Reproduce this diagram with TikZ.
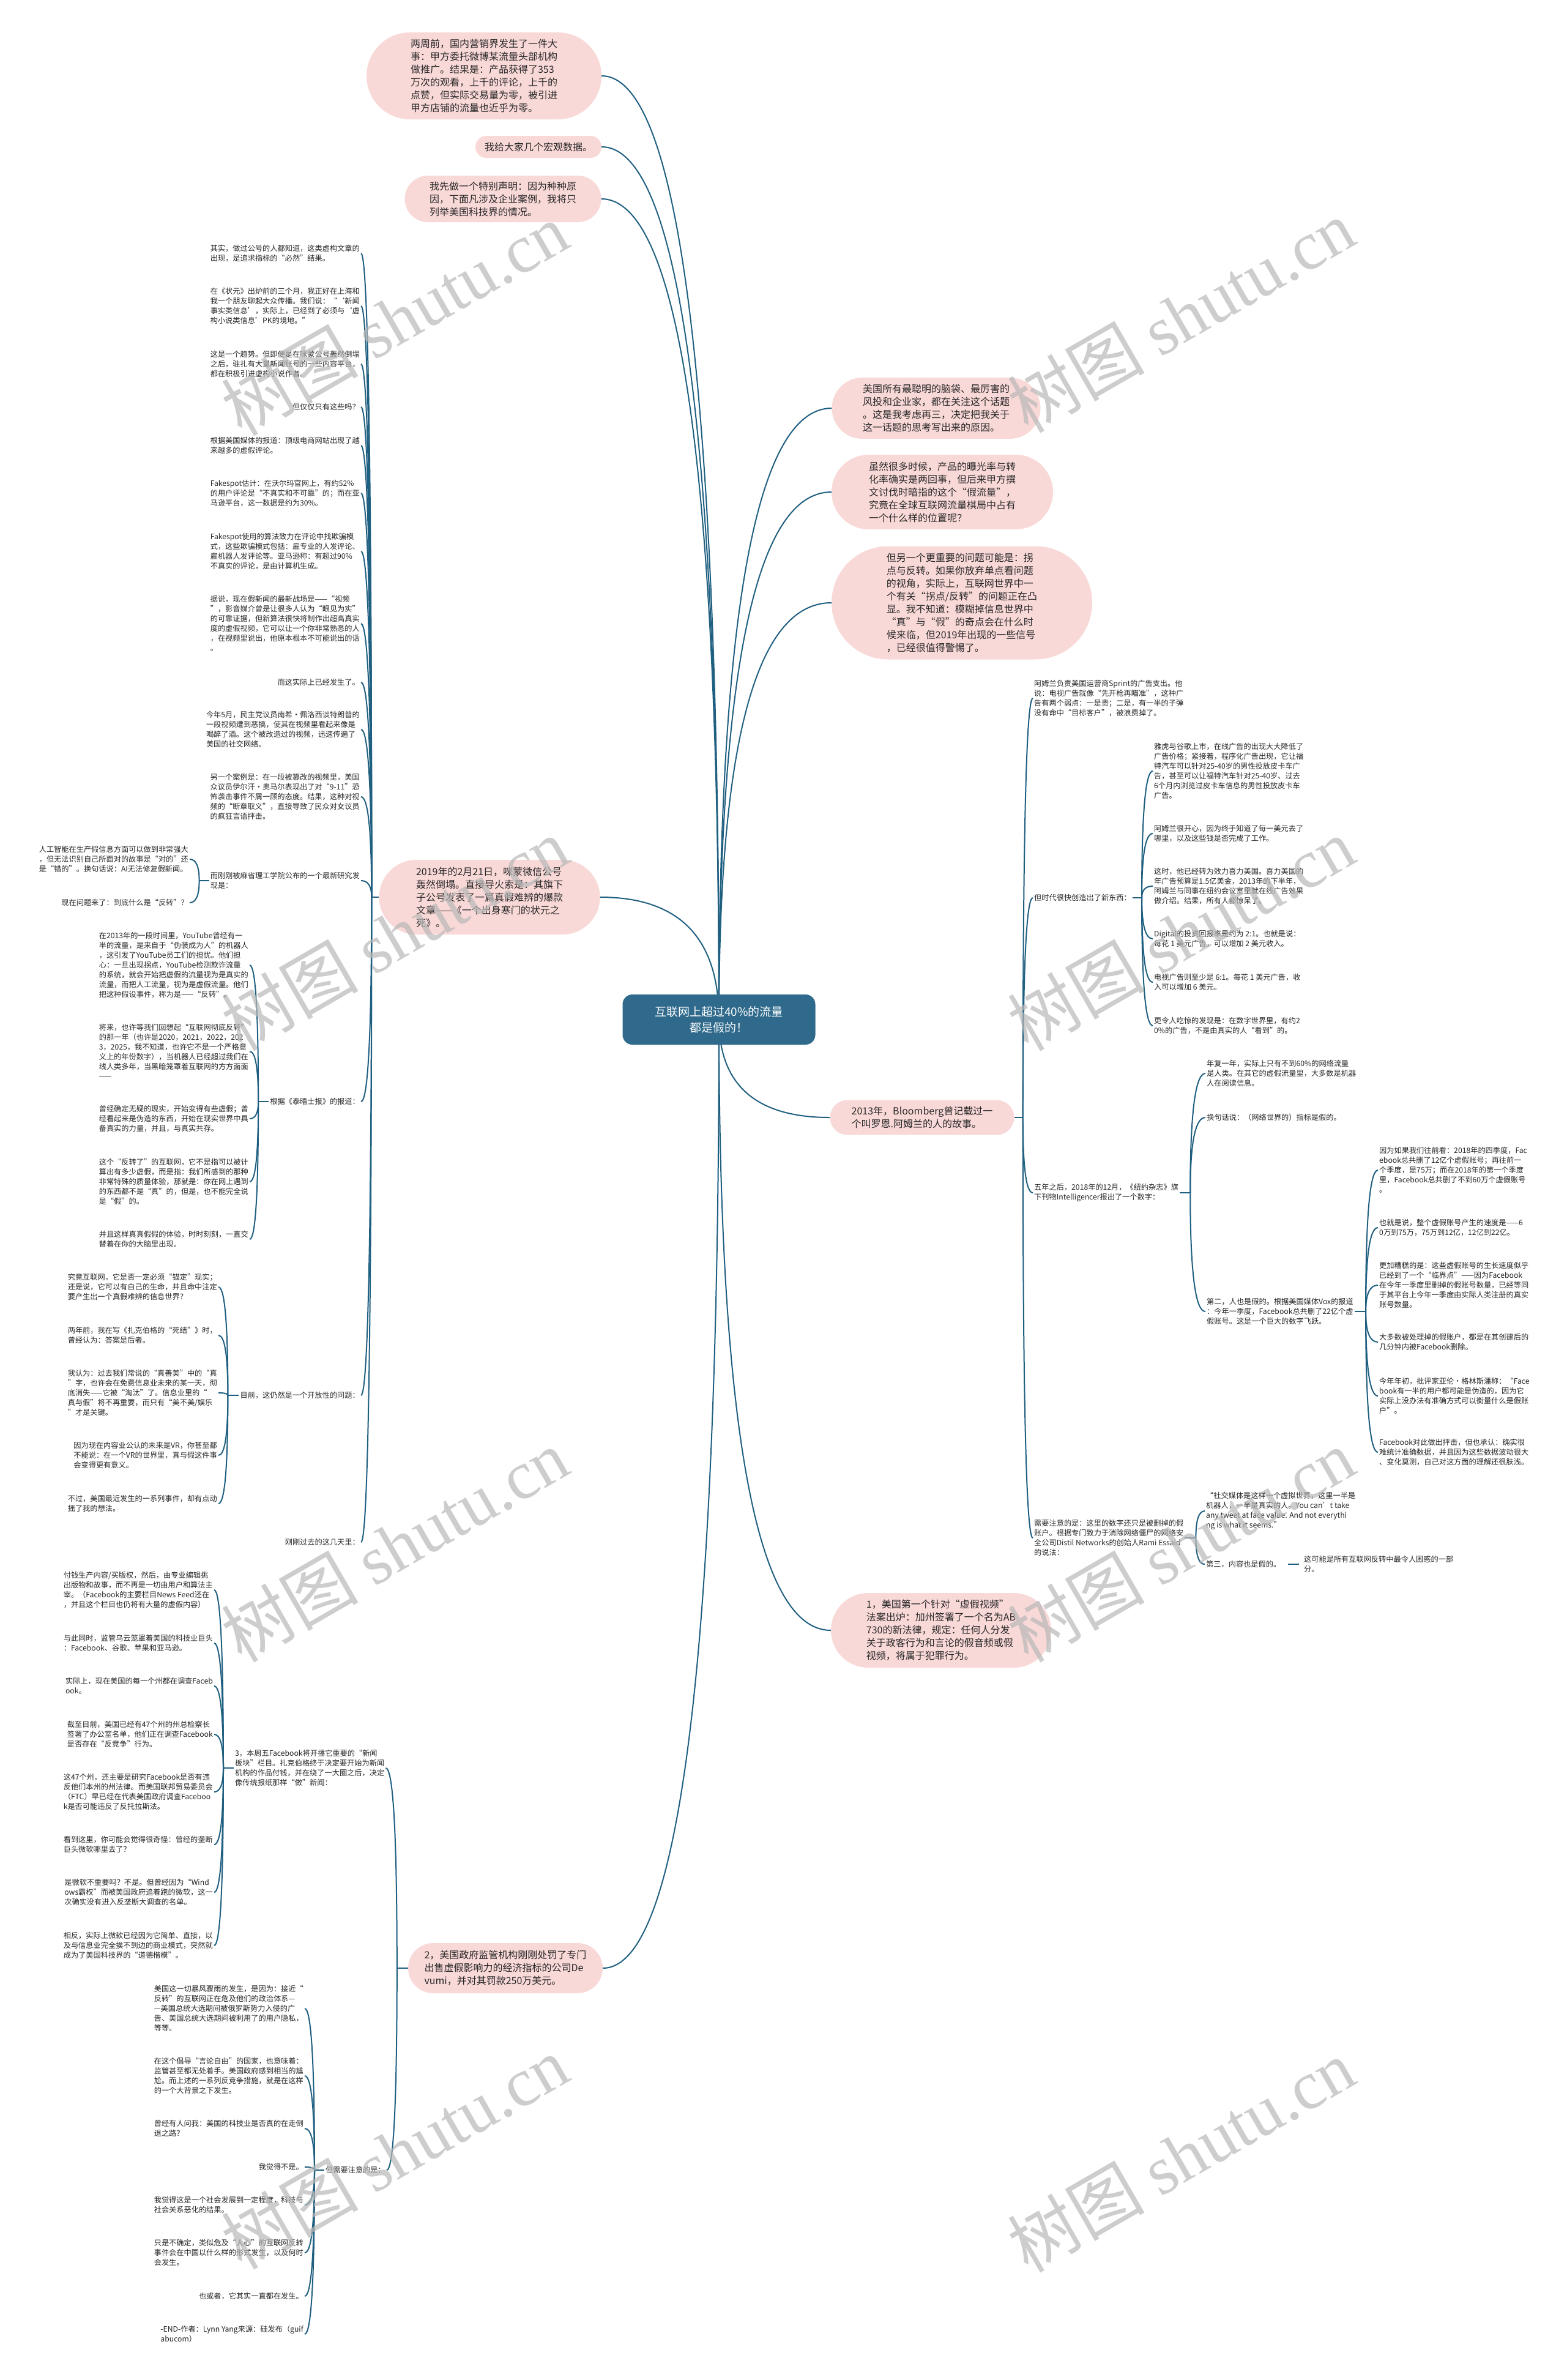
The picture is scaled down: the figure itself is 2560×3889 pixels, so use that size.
\documentclass[tikz,border=0pt]{standalone}
\usepackage{fontspec}
\setmainfont{Noto Sans CJK SC}
\newfontfamily\wmlat{Liberation Serif}
\usetikzlibrary{calc,shapes.misc}
\definecolor{pinkc}{HTML}{F9D9D8}
\definecolor{linkc}{HTML}{1F5F80}
\definecolor{rootc}{HTML}{2F6A8C}
\definecolor{txtc}{HTML}{262626}
\pgfdeclarelayer{bgfill}
\pgfdeclarelayer{background}
\pgfsetlayers{bgfill,background,main}
\newcommand\leaffont{\fontsize{12.2}{16}\selectfont}
\newcommand\pillfont{\fontsize{16}{21}\selectfont}
\newcommand\blink[2]{%
  \coordinate (bk) at (#1|-#2);
  \draw[link] (#1) .. controls ($(#1)!0.667!(bk)$) and ($(#2)!0.667!(bk)$) .. (#2);}
\tikzset{
  link/.style={draw=linkc, line width=2pt},
  leaf/.style={font=\leaffont, align=left, inner sep=2pt, text=txtc},
  lleaf/.style={leaf, anchor=east},
  rleaf/.style={leaf, anchor=west},
  pill/.style={rounded rectangle, fill=pinkc, font=\pillfont, align=left, inner xsep=2pt, inner ysep=2pt, text=txtc},
  rootn/.style={rectangle, rounded corners=16pt, fill=rootc, text=white, font=\fontsize{19}{26}\selectfont, align=center, minimum width=315, minimum height=82},
  wm/.style={font=\fontsize{112}{112}\selectfont, text=black!28, text opacity=0.7, rotate=30, inner sep=0pt}
}
\begin{document}
\begin{tikzpicture}[x=1pt,y=-1pt]
\begin{pgfonlayer}{bgfill}
\fill[white] (0,0) rectangle (2560,3889);
\end{pgfonlayer}
\useasboundingbox (0,0) rectangle (2560,3889);

% root
\node[rootn] (root) at (1175,1666) {互联网上超过40\%的流量\\都是假的！};

% top-left pills
\node[pill,minimum width=388,minimum height=142] (A) at (791,124) {两周前，国内营销界发生了一件大\\事：甲方委托微博某流量头部机构\\做推广。结果是：产品获得了353\\万次的观看，上千的评论，上千的\\点赞，但实际交易量为零，被引进\\甲方店铺的流量也近乎为零。};
\node[pill,minimum width=210,minimum height=36] (B) at (880,240) {我给大家几个宏观数据。};
\node[pill,minimum width=325,minimum height=76] (C) at (822,325) {我先做一个特别声明：因为种种原\\因，下面凡涉及企业案例，我将只\\列举美国科技界的情况。};

% right pills
\node[pill,minimum width=345,minimum height=100] (D) at (1530,667) {美国所有最聪明的脑袋、最厉害的\\风投和企业家，都在关注这个话题\\。这是我考虑再三，决定把我关于\\这一话题的思考写出来的原因。};
\node[pill,minimum width=366,minimum height=122] (E) at (1540,804) {虽然很多时候，产品的曝光率与转\\化率确实是两回事，但后来甲方撰\\文讨伐时暗指的这个“假流量”，\\究竟在全球互联网流量棋局中占有\\一个什么样的位置呢？};
\node[pill,minimum width=430,minimum height=185] (F) at (1572,985) {但另一个更重要的问题可能是：拐\\点与反转。如果你放弃单点看问题\\的视角，实际上，互联网世界中一\\个有关“拐点/反转”的问题正在凸\\显。我不知道：模糊掉信息世界中\\“真”与“假”的奇点会在什么时\\候来临，但2019年出现的一些信号\\，已经很值得警惕了。};
\node[pill,minimum width=305,minimum height=57] (bb) at (1507,1826) {2013年，Bloomberg曾记载过一\\个叫罗恩.阿姆兰的人的故事。};
\node[pill,minimum width=364,minimum height=122] (one) at (1538,2664) {1，美国第一个针对“虚假视频”\\法案出炉：加州签署了一个名为AB\\730的新法律，规定：任何人分发\\关于政客行为和言论的假音频或假\\视频，将属于犯罪行为。};

% left pills
\node[pill,minimum width=365,minimum height=122] (n19) at (800,1466) {2019年的2月21日，咪蒙微信公号\\轰然倒塌。直接导火索是：其旗下\\子公号发表了一篇真假难辨的爆款\\文章——《一个出身寒门的状元之\\死》。};
\node[pill,minimum width=322,minimum height=82] (two) at (826,3216) {2，美国政府监管机构刚刚处罚了专门\\出售虚假影响力的经济指标的公司De\\vumi，并对其罚款250万美元。};

% ---- leaves of 2019 ----
\node[lleaf] (l1) at (590,414) {其实，做过公号的人都知道，这类虚构文章的\\出现，是追求指标的“必然”结果。};
\node[lleaf] (l2) at (590,500) {在《状元》出炉前的三个月，我正好在上海和\\我一个朋友聊起大众传播。我们说：“‘新闻\\事实类信息’，实际上，已经到了必须与‘虚\\构小说类信息’PK的境地。”};
\node[lleaf] (l3) at (590,595) {这是一个趋势。但即便是在咪蒙公号轰然倒塌\\之后，驻扎有大量新闻账号的一些内容平台，\\都在积极引进虚构小说作者。};
\node[lleaf] (l4) at (590,665) {但仅仅只有这些吗？};
\node[lleaf] (l5) at (590,728) {根据美国媒体的报道：顶级电商网站出现了越\\来越多的虚假评论。};
\node[lleaf] (l6) at (590,806) {Fakespot估计：在沃尔玛官网上，有约52\%\\的用户评论是“不真实和不可靠”的；而在亚\\马逊平台，这一数据是约为30\%。};
\node[lleaf] (l7) at (590,901) {Fakespot使用的算法致力在评论中找欺骗模\\式，这些欺骗模式包括：雇专业的人发评论、\\雇机器人发评论等。亚马逊称：有超过90\%\\不真实的评论，是由计算机生成。};
\node[lleaf] (l8) at (590,1019) {据说，现在假新闻的最新战场是——“视频\\”，影音媒介曾是让很多人认为“眼见为实”\\的可靠证据，但新算法很快将制作出超高真实\\度的虚假视频，它可以让一个你非常熟悉的人\\，在视频里说出，他原本根本不可能说出的话\\。};
\node[lleaf] (l9) at (590,1115) {而这实际上已经发生了。};
\node[lleaf] (l10) at (590,1192) {今年5月，民主党议员南希·佩洛西谈特朗普的\\一段视频遭到恶搞，使其在视频里看起来像是\\喝醉了酒。这个被改造过的视频，迅速传遍了\\美国的社交网络。};
\node[lleaf] (l11) at (590,1302) {另一个案例是：在一段被篡改的视频里，美国\\众议员伊尔汗·奥马尔表现出了对“9-11”恐\\怖袭击事件不屑一顾的态度。结果，这种对视\\频的“断章取义”，直接导致了民众对女议员\\的疯狂言语抨击。};
\node[lleaf] (l12) at (590,1439) {而刚刚被麻省理工学院公布的一个最新研究发\\现是：};
\node[lleaf] (l12a) at (310,1404) {人工智能在生产假信息方面可以做到非常强大\\，但无法识别自己所面对的故事是“对的”还\\是“错的”。换句话说：AI无法修复假新闻。};
\node[lleaf] (l12b) at (310,1475) {现在问题来了：到底什么是“反转”？};
\node[lleaf] (l13) at (590,1800) {根据《泰晤士报》的报道：};
\node[lleaf] (l13a) at (408,1577) {在2013年的一段时间里，YouTube曾经有一\\半的流量，是来自于“伪装成为人”的机器人\\，这引发了YouTube员工们的担忧。他们担\\心：一旦出现拐点，YouTube检测欺诈流量\\的系统，就会开始把虚假的流量视为是真实的\\流量，而把人工流量，视为是虚假流量。他们\\把这种假设事件，称为是——“反转”。};
\node[lleaf] (l13b) at (408,1718) {将来，也许等我们回想起“互联网彻底反转”\\的那一年（也许是2020，2021，2022，202\\3，2025，我不知道，也许它不是一个严格意\\义上的年份数字），当机器人已经超过我们在\\线人类多年，当黑暗笼罩着互联网的方方面面\\——};
\node[lleaf] (l13c) at (408,1828) {曾经确定无疑的现实，开始变得有些虚假；曾\\经看起来是伪造的东西，开始在现实世界中具\\备真实的力量，并且，与真实共存。};
\node[lleaf] (l13d) at (408,1931) {这个“反转了”的互联网，它不是指可以被计\\算出有多少虚假，而是指：我们所感到的那种\\非常特殊的质量体验，那就是：你在网上遇到\\的东西都不是“真”的，但是，也不能完全说\\是“假”的。};
\node[lleaf] (l13e) at (408,2025) {并且这样真真假假的体验，时时刻刻，一直交\\替着在你的大脑里出现。};
\node[lleaf] (l14) at (590,2280) {目前，这仍然是一个开放性的问题：};
\node[lleaf] (l14a) at (357,2103) {究竟互联网，它是否一定必须“锚定”现实；\\还是说，它可以有自己的生命，并且命中注定\\要产生出一个真假难辨的信息世界？};
\node[lleaf] (l14b) at (357,2182) {两年前，我在写《扎克伯格的“死结”》时，\\曾经认为：答案是后者。};
\node[lleaf] (l14c) at (357,2276) {我认为：过去我们常说的“真善美”中的“真\\”字，也许会在免费信息业未来的某一天，彻\\底消失——它被“淘汰”了。信息业里的“\\真与假”将不再重要，而只有“美不美/娱乐\\”才是关键。};
\node[lleaf] (l14d) at (357,2378) {因为现在内容业公认的未来是VR，你甚至都\\不能说：在一个VR的世界里，真与假这件事\\会变得更有意义。};
\node[lleaf] (l14e) at (357,2457) {不过，美国最近发生的一系列事件，却有点动\\摇了我的想法。};
\node[lleaf] (l15) at (590,2520) {刚刚过去的这几天里：};

% ---- children of "2." ----
\node[rleaf] (n3) at (382,2889) {3，本周五Facebook将开播它重要的“新闻\\板块”栏目。扎克伯格终于决定要开始为新闻\\机构的作品付钱，并在绕了一大圈之后，决定\\像传统报纸那样“做”新闻：};
\node[lleaf] (n3a) at (350,2598) {付钱生产内容/买版权，然后，由专业编辑挑\\出版物和故事，而不再是一切由用户和算法主\\宰。（Facebook的主要栏目News Feed还在\\，并且这个栏目也仍将有大量的虚假内容）};
\node[lleaf] (n3b) at (350,2685) {与此同时，监管乌云笼罩着美国的科技业巨头\\：Facebook、谷歌、苹果和亚马逊。};
\node[lleaf] (n3c) at (350,2755) {实际上，现在美国的每一个州都在调查Faceb\\ook。};
\node[lleaf] (n3d) at (350,2834) {截至目前，美国已经有47个州的州总检察长\\签署了办公室名单，他们正在调查Facebook\\是否存在“反竞争”行为。};
\node[lleaf] (n3e) at (350,2928) {这47个州，还主要是研究Facebook是否有违\\反他们本州的州法律。而美国联邦贸易委员会\\（FTC）早已经在代表美国政府调查Faceboo\\k是否可能违反了反托拉斯法。};
\node[lleaf] (n3f) at (350,3014) {看到这里，你可能会觉得很奇怪：曾经的垄断\\巨头微软哪里去了？};
\node[lleaf] (n3g) at (350,3092) {是微软不重要吗？不是。但曾经因为“Wind\\ows霸权”而被美国政府追着跑的微软，这一\\次确实没有进入反垄断大调查的名单。};
\node[lleaf] (n3h) at (350,3179) {相反，实际上微软已经因为它简单、直接，以\\及与信息业完全挨不到边的商业模式，突然就\\成为了美国科技界的“道德楷模”。};
\node[rleaf] (nN) at (530,3546) {但需要注意的是：};
\node[lleaf] (nNa) at (498,3282) {美国这一切暴风骤雨的发生，是因为：接近“\\反转”的互联网正在危及他们的政治体系—\\—美国总统大选期间被俄罗斯势力入侵的广\\告、美国总统大选期间被利用了的用户隐私，\\等等。};
\node[lleaf] (nNb) at (498,3392) {在这个倡导“言论自由”的国家，也意味着：\\监管甚至都无处着手。美国政府感到相当的尴\\尬。而上述的一系列反竞争措施，就是在这样\\的一个大背景之下发生。};
\node[lleaf] (nNc) at (498,3478) {曾经有人问我：美国的科技业是否真的在走倒\\退之路？};
\node[lleaf] (nNd) at (498,3541) {我觉得不是。};
\node[lleaf] (nNe) at (498,3603) {我觉得这是一个社会发展到一定程度，科技与\\社会关系恶化的结果。};
\node[lleaf] (nNf) at (498,3681) {只是不确定，类似危及“人心”的互联网反转\\事件会在中国以什么样的形式发生，以及何时\\会发生。};
\node[lleaf] (nNg) at (498,3752) {也或者，它其实一直都在发生。};
\node[lleaf] (nNh) at (498,3814) {-END-作者：Lynn Yang来源：硅发布（guif\\abucom）};

% ---- right side children of Bloomberg ----
\node[rleaf] (r1) at (1688,1141) {阿姆兰负责美国运营商Sprint的广告支出。他\\说：电视广告就像“先开枪再瞄准”，这种广\\告有两个弱点：一是贵；二是，有一半的子弹\\没有命中“目标客户”，被浪费掉了。};
\node[rleaf] (r2) at (1688,1467) {但时代很快创造出了新东西：};
\node[rleaf] (r2a) at (1884,1260) {雅虎与谷歌上市，在线广告的出现大大降低了\\广告价格；紧接着，程序化广告出现，它让福\\特汽车可以针对25-40岁的男性投放皮卡车广\\告，甚至可以让福特汽车针对25-40岁、过去\\6个月内浏览过皮卡车信息的男性投放皮卡车\\广告。};
\node[rleaf] (r2b) at (1884,1362) {阿姆兰很开心，因为终于知道了每一美元去了\\哪里，以及这些钱是否完成了工作。};
\node[rleaf] (r2c) at (1884,1448) {这时，他已经转为效力喜力美国。喜力美国的\\年广告预算是1.5亿美金，2013年的下半年，\\阿姆兰与同事在纽约会议室里就在线广告效果\\做介绍。结果，所有人都惊呆了。};
\node[rleaf] (r2d) at (1884,1534) {Digital的投资回报率是约为 2:1。也就是说：\\每花 1 美元广告，可以增加 2 美元收入。};
\node[rleaf] (r2e) at (1884,1605) {电视广告则至少是 6:1。每花 1 美元广告，收\\入可以增加 6 美元。};
\node[rleaf] (r2f) at (1884,1676) {更令人吃惊的发现是：在数字世界里，有约2\\0\%的广告，不是由真实的人“看到”的。};
\node[rleaf] (r3) at (1688,1949) {五年之后，2018年的12月，《纽约杂志》旗\\下刊物Intelligencer报出了一个数字：};
\node[rleaf] (r3a) at (1970,1754) {年复一年，实际上只有不到60\%的网络流量\\是人类。在其它的虚假流量里，大多数是机器\\人在阅读信息。};
\node[rleaf] (r3b) at (1970,1826) {换句话说：（网络世界的）指标是假的。};
\node[rleaf] (r3c) at (1970,2143) {第二，人也是假的。根据美国媒体Vox的报道\\：今年一季度，Facebook总共删了22亿个虚\\假账号。这是一个巨大的数字飞跃。};
\node[rleaf] (s1) at (2252,1912) {因为如果我们往前看：2018年的四季度，Fac\\ebook总共删了12亿个虚假账号；再往前一\\个季度，是75万；而在2018年的第一个季度\\里，Facebook总共删了不到60万个虚假账号\\。};
\node[rleaf] (s2) at (2252,2006) {也就是说，整个虚假账号产生的速度是——6\\0万到75万，75万到12亿，12亿到22亿。};
\node[rleaf] (s3) at (2252,2100) {更加糟糕的是：这些虚假账号的生长速度似乎\\已经到了一个“临界点”——因为Facebook\\在今年一季度里删掉的假账号数量，已经等同\\于其平台上今年一季度由实际人类注册的真实\\账号数量。};
\node[rleaf] (s4) at (2252,2193) {大多数被处理掉的假账户，都是在其创建后的\\几分钟内被Facebook删除。};
\node[rleaf] (s5) at (2252,2281) {今年年初，批评家亚伦·格林斯潘称：“Face\\book有一半的用户都可能是伪造的，因为它\\实际上没办法有准确方式可以衡量什么是假账\\户”。};
\node[rleaf] (s6) at (2252,2373) {Facebook对此做出抨击，但也承认：确实很\\难统计准确数据，并且因为这些数据波动很大\\、变化莫测，自己对这方面的理解还很肤浅。};
\node[rleaf] (r4) at (1688,2513) {需要注意的是：这里的数字还只是被删掉的假\\账户。根据专门致力于消除网络僵尸的网络安\\全公司Distil Networks的创始人Rami Essaid\\的说法：};
\node[rleaf] (r4a) at (1969,2469) {“社交媒体是这样一个虚拟世界，这里一半是\\机器人，一半是真实的人。You can’t take\\any tweet at face value. And not everythi\\ng is what it seems.”};
\node[rleaf] (r4b) at (1969,2556) {第三，内容也是假的。};
\node[rleaf] (r4c) at (2129,2556) {这可能是所有互联网反转中最令人困惑的一部\\分。};

% ports
\coordinate (p19) at ($(n19.west)+(-12,0)$);
\coordinate (p12) at ($(l12.west)+(-16,0)$);
\coordinate (p13) at ($(l13.west)+(-17,0)$);
\coordinate (p14) at ($(l14.west)+(-18,0)$);
\coordinate (pTwo) at ($(two.west)+(-18,0)$);
\coordinate (p3) at ($(n3.west)+(-17,0)$);
\coordinate (pN) at ($(nN.west)+(-16,0)$);
\coordinate (pB) at ($(bb.east)+(14,0)$);
\coordinate (pR2) at ($(r2.east)+(15,0)$);
\coordinate (pR3) at ($(r3.east)+(17,0)$);
\coordinate (pR3c) at ($(r3c.east)+(18,0)$);
\coordinate (pR4) at ($(r4.east)+(18,0)$);

\begin{pgfonlayer}{background}
  % root links
  \foreach \c in {A.east,B.east,C.east,n19.east,two.east,D.west,E.west,F.west,bb.west,one.west}{\blink{root.center}{\c}}
  % stubs
  \draw[link] (n19.west) -- (p19);
  \draw[link] (l12.west) -- (p12);
  \draw[link] (l13.west) -- (p13);
  \draw[link] (l14.west) -- (p14);
  \draw[link] (two.west) -- (pTwo);
  \draw[link] (n3.west) -- (p3);
  \draw[link] (nN.west) -- (pN);
  \draw[link] (bb.east) -- (pB);
  \draw[link] (r2.east) -- (pR2);
  \draw[link] (r3.east) -- (pR3);
  \draw[link] (r3c.east) -- (pR3c);
  \draw[link] (r4.east) -- (pR4);
  % 2019 children
  \foreach \c in {l1,l2,l3,l4,l5,l6,l7,l8,l9,l10,l11,l12,l13,l14,l15}{\blink{p19}{\c.east}}
  \foreach \c in {l12a,l12b}{\blink{p12}{\c.east}}
  \foreach \c in {l13a,l13b,l13c,l13d,l13e}{\blink{p13}{\c.east}}
  \foreach \c in {l14a,l14b,l14c,l14d,l14e}{\blink{p14}{\c.east}}
  % "2." children
  \foreach \c in {n3,nN}{\blink{pTwo}{\c.east}}
  \foreach \c in {n3a,n3b,n3c,n3d,n3e,n3f,n3g,n3h}{\blink{p3}{\c.east}}
  \foreach \c in {nNa,nNb,nNc,nNd,nNe,nNf,nNg,nNh}{\blink{pN}{\c.east}}
  % Bloomberg children
  \foreach \c in {r1,r2,r3,r4}{\blink{pB}{\c.west}}
  \foreach \c in {r2a,r2b,r2c,r2d,r2e,r2f}{\blink{pR2}{\c.west}}
  \foreach \c in {r3a,r3b,r3c}{\blink{pR3}{\c.west}}
  \foreach \c in {s1,s2,s3,s4,s5,s6}{\blink{pR3c}{\c.west}}
  \foreach \c in {r4a,r4b}{\blink{pR4}{\c.west}}
  \draw[link,shorten <=10pt,shorten >=6pt] (r4b.east) -- (r4b.east -| r4c.west);
\end{pgfonlayer}

% watermarks
\foreach \p in {(645,521),(1930,516),(645,1526),(1930,1526),(645,2525),(1930,2525),(645,3517),(1930,3522)}{
  \node[wm] at \p {树图 {\wmlat shutu.cn}};
}
\end{tikzpicture}
\end{document}
